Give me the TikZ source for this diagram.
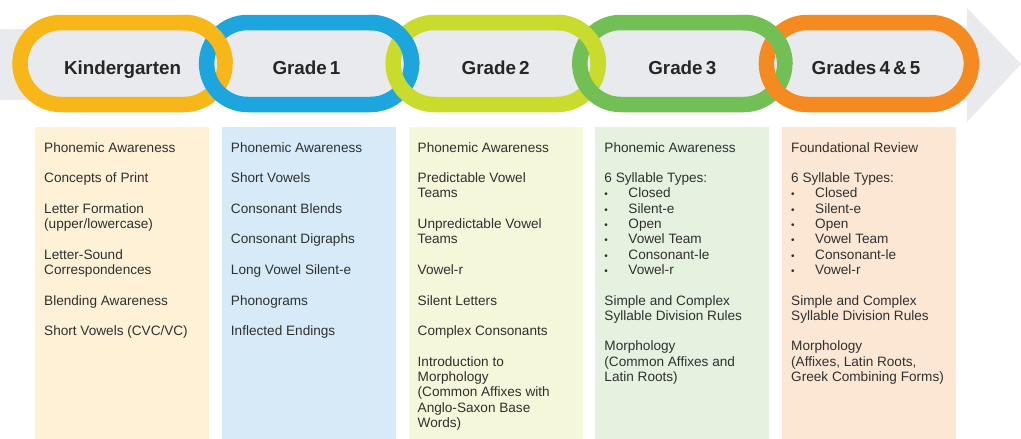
\documentclass[tikz,border=0pt]{standalone}
\usepackage{fontspec}
\setmainfont{Liberation Sans}
\definecolor{bandgray}{HTML}{E9EAEE}
\definecolor{ringK}{HTML}{F8B719}
\definecolor{ringA}{HTML}{1DA5DE}
\definecolor{ringB}{HTML}{C9DB2C}
\definecolor{ringC}{HTML}{72C055}
\definecolor{ringD}{HTML}{F58B20}
\definecolor{colK}{HTML}{FEF1D6}
\definecolor{colA}{HTML}{D6EBF7}
\definecolor{colB}{HTML}{F4F7DA}
\definecolor{colC}{HTML}{E5F2E0}
\definecolor{colD}{HTML}{FCE7D4}
\definecolor{headtext}{HTML}{262626}
\definecolor{bodytext}{HTML}{303030}
\newcommand{\bul}[1]{\makebox[24pt][l]{\fontsize{10}{10}\selectfont\textbullet}#1}
\tikzset{
  ringline/.style={line width=15.5pt, rounded corners=41pt},
  head/.style={font=\fontsize{18.8}{20}\selectfont\bfseries, text=headtext, inner sep=0pt, anchor=base},
  body/.style={font=\fontsize{13.6}{15.3}\selectfont, text=bodytext, align=left, inner sep=0pt, anchor=north west},
}
\newcommand{\ringat}[2]{\draw[ringline, draw=#2] (#1-102.5,22.5) rectangle (#1+102.5,104.5);}
\begin{document}
\begin{tikzpicture}[x=1pt,y=-1pt]
\useasboundingbox (0,0) rectangle (1021,439);
\fill[white] (0,0) rectangle (1021,439);
% band and arrow head
\fill[bandgray] (0,29) rectangle (968,100);
\fill[bandgray] (967,8) -- (1021,64) -- (967,122) -- cycle;
% columns
\fill[colK] (35,127) rectangle (209,439);
\fill[colA] (221.75,127) rectangle (395.75,439);
\fill[colB] (408.5,127) rectangle (582.5,439);
\fill[colC] (595.25,127) rectangle (769.25,439);
\fill[colD] (782,127) rectangle (956,439);
% rings
\ringat{122.5}{ringK}
\ringat{309.1}{ringA}
\ringat{495.7}{ringB}
\ringat{682.3}{ringC}
\ringat{868.9}{ringD}
% over-crossings at the top
\begin{scope}\clip (182.5,0) rectangle (237.5,63.5); \ringat{122.5}{ringK} \end{scope}
\begin{scope}\clip (369.1,0) rectangle (424.1,63.5); \ringat{309.1}{ringA} \end{scope}
\begin{scope}\clip (555.7,0) rectangle (610.7,63.5); \ringat{495.7}{ringB} \end{scope}
\begin{scope}\clip (742.3,0) rectangle (797.3,63.5); \ringat{682.3}{ringC} \end{scope}
% headers
\node[head] (hK) at (122.5,74) {Kindergarten};
\node[head] (hA) at (306.5,74) {Grade\,1};
\node[head] (hB) at (495.7,74) {Grade\,2};
\node[head] (hC) at (682.3,74) {Grade\,3};
\node[head] (hD) at (866,74) {Grades\,4\,\&\,5};
% column texts
\node[body] (tK) at (44,142) {Phonemic Awareness\\[15.3pt]
Concepts of Print\\[15.3pt]
Letter Formation\\(upper/lowercase)\\[15.3pt]
Letter-Sound\\Correspondences\\[15.3pt]
Blending Awareness\\[15.3pt]
Short Vowels (CVC/VC)};
\node[body] (tA) at (230.75,142) {Phonemic Awareness\\[15.3pt]
Short Vowels\\[15.3pt]
Consonant Blends\\[15.3pt]
Consonant Digraphs\\[15.3pt]
Long Vowel Silent-e\\[15.3pt]
Phonograms\\[15.3pt]
Inflected Endings};
\node[body] (tB) at (417.5,142) {Phonemic Awareness\\[15.3pt]
Predictable Vowel\\Teams\\[15.3pt]
Unpredictable Vowel\\Teams\\[15.3pt]
Vowel-r\\[15.3pt]
Silent Letters\\[15.3pt]
Complex Consonants\\[15.3pt]
Introduction to\\Morphology\\(Common Affixes with\\Anglo-Saxon Base\\Words)};
\node[body] (tC) at (604.25,142) {Phonemic Awareness\\[15.3pt]
6 Syllable Types:\\
\bul{Closed}\\\bul{Silent-e}\\\bul{Open}\\\bul{Vowel Team}\\\bul{Consonant-le}\\\bul{Vowel-r}\\[15.3pt]
Simple and Complex\\Syllable Division Rules\\[15.3pt]
Morphology\\(Common Affixes and\\Latin Roots)};
\node[body] (tD) at (791,142) {Foundational Review\\[15.3pt]
6 Syllable Types:\\
\bul{Closed}\\\bul{Silent-e}\\\bul{Open}\\\bul{Vowel Team}\\\bul{Consonant-le}\\\bul{Vowel-r}\\[15.3pt]
Simple and Complex\\Syllable Division Rules\\[15.3pt]
Morphology\\(Affixes, Latin Roots,\\Greek Combining Forms)};
\end{tikzpicture}
\end{document}
